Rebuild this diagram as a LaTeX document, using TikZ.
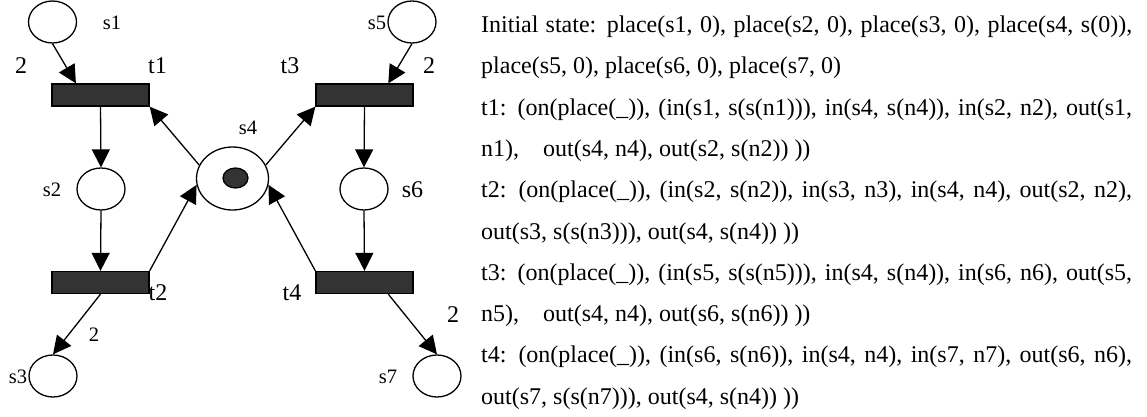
\documentclass[tikz,border=0pt]{standalone}
\usepackage{fontspec}
\setmainfont{Liberation Serif}
\usetikzlibrary{arrows.meta,calc,shapes.geometric}
\definecolor{tdark}{HTML}{333333}
\begin{document}
\begin{tikzpicture}[x=1pt,y=-1pt,
  place/.style={draw, ellipse, line width=1.3pt, minimum width=48pt, minimum height=42pt, inner sep=0pt},
  trans/.style={draw, fill=tdark, line width=1.3pt, minimum width=97pt, minimum height=22pt, inner sep=0pt},
  arc/.style={line width=1.3pt, -{Triangle[length=18pt,width=18pt]}},
  lbls/.style={font=\fontsize{20.5}{24}\selectfont, inner sep=0pt},
  lbll/.style={font=\fontsize{24}{28}\selectfont, inner sep=0pt},
  txt/.style={font=\fontsize{24}{28}\selectfont, inner sep=0pt, anchor=base west},
]
\useasboundingbox (0,0) rectangle (1147,417);
% places
\node[place] (s1) at (52.5,22) {};
\node[place] (s5) at (412,22) {};
\node[place] (s2) at (101,189) {};
\node[place] (s6) at (364,189) {};
\node[place] (s3) at (53,376) {};
\node[place] (s7) at (437,376) {};
\node[place, minimum width=72pt, minimum height=63pt] (s4) at (232.5,178.5) {};
\node[draw, ellipse, fill=tdark, line width=1.3pt, minimum width=25pt, minimum height=20pt, inner sep=0pt] (tok) at (235.5,178) {};
% transitions
\node[trans] (t1) at (100.5,95) {};
\node[trans] (t3) at (364.5,95) {};
\node[trans] (t2) at (100.5,282.5) {};
\node[trans] (t4) at (364.5,282.5) {};
% arcs
\draw[arc] (s1.south) -- ($(t1.north west)!0.25!(t1.north east)$);
\draw[arc] (s5.south) -- ($(t3.north west)!0.742!(t3.north east)$);
\draw[arc] (t1.south) -- (s2.north);
\draw[arc] (t3.south) -- (s6.north);
\draw[arc] (s4.158) -- (t1.south east);
\draw[arc] (s4.22) -- (t3.south west);
\draw[arc] (s2.south) -- (t2.north);
\draw[arc] (s6.south) -- (t4.north);
\draw[arc] (t2.north east) -- (s4.190);
\draw[arc] (t4.north west) -- (s4.-10);
\draw[arc] (t2.south) -- (s3.north);
\draw[arc] ($(t4.south west)!0.742!(t4.south east)$) -- (s7.north);
% labels
\node[lbls] (ls1) at (112,23) {s1};
\node[lbls] (ls5) at (377,23) {s5};
\node[lbls] (ls4) at (248,128) {s4};
\node[lbls] (ls2) at (52,190) {s2};
\node[lbll] (ls6) at (412.5,190) {s6};
\node[lbls] (ls3) at (18,377) {s3};
\node[lbls] (ls7) at (388,377) {s7};
\node[lbll] (lt1) at (157.5,66) {t1};
\node[lbll] (lt3) at (290,66) {t3};
\node[lbll] (lt2) at (158,293) {t2};
\node[lbll] (lt4) at (292,293) {t4};
\node[lbll] (w1) at (21,66) {2};
\node[lbll] (w3) at (429,66) {2};
\node[lbls] (w2) at (94,335) {2};
\node[lbll] (w4) at (453,315) {2};
% text
\node[txt] (x0) at (481,32.5) {\makebox[651pt][s]{Initial state: place(s1, 0), place(s2, 0), place(s3, 0), place(s4, s(0)),}};
\node[txt] (x1) at (481,73.8) {place(s5, 0), place(s6, 0), place(s7, 0)};
\node[txt] (x2) at (481,115.1) {\makebox[651pt][s]{t1: (on(place(\_)), (in(s1, s(s(n1))), in(s4, s(n4)), in(s2, n2), out(s1,}};
\node[txt] (x3) at (481,156.4) {n1),\hspace{18pt} out(s4, n4), out(s2, s(n2)) ))};
\node[txt] (x4) at (481,197.7) {\makebox[651pt][s]{t2: (on(place(\_)), (in(s2, s(n2)), in(s3, n3), in(s4, n4), out(s2, n2),}};
\node[txt] (x5) at (481,239) {out(s3, s(s(n3))), out(s4, s(n4)) ))};
\node[txt] (x6) at (481,280.3) {\makebox[651pt][s]{t3: (on(place(\_)), (in(s5, s(s(n5))), in(s4, s(n4)), in(s6, n6), out(s5,}};
\node[txt] (x7) at (481,321.6) {n5),\hspace{18pt} out(s4, n4), out(s6, s(n6)) ))};
\node[txt] (x8) at (481,362.9) {\makebox[651pt][s]{t4: (on(place(\_)), (in(s6, s(n6)), in(s4, n4), in(s7, n7), out(s6, n6),}};
\node[txt] (x9) at (481,404.2) {out(s7, s(s(n7))), out(s4, s(n4)) ))};
\end{tikzpicture}
\end{document}
